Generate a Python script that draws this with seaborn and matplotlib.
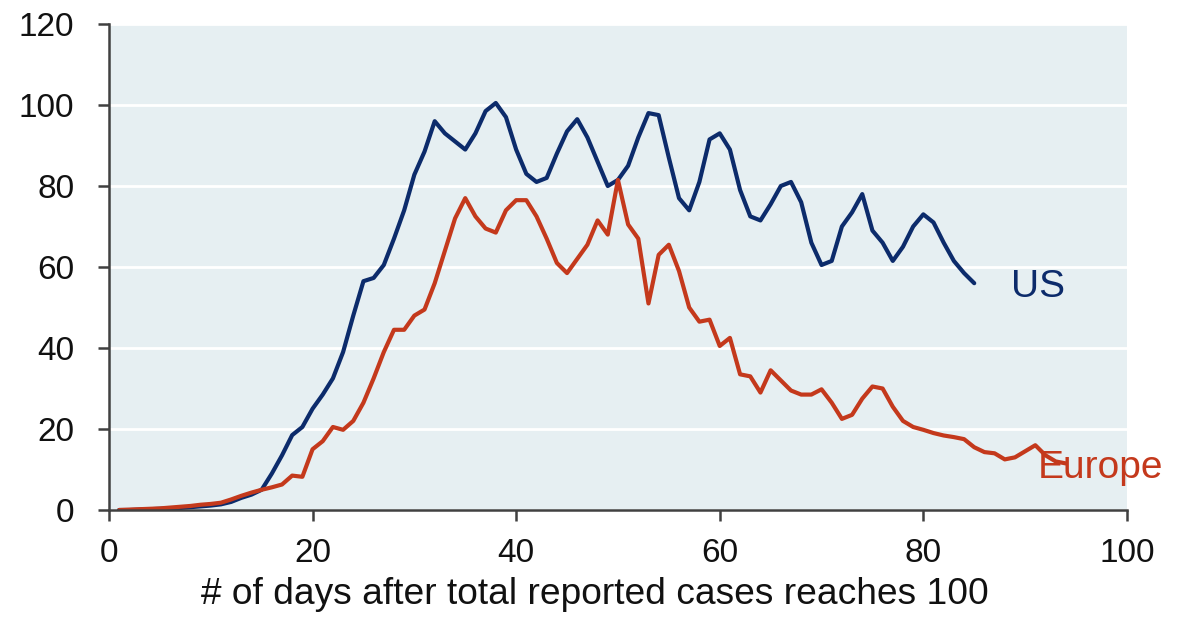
import numpy as np
import pandas as pd
import matplotlib
matplotlib.use("Agg")
import matplotlib.pyplot as plt
import seaborn as sns

us_days = list(range(1, 86))
us_values = [0, 0, 0.1, 0.2, 0.3, 0.4, 0.5, 0.7, 0.9, 1.1,
             1.4, 2.0, 3.0, 3.8, 5.0, 9.0, 13.5, 18.5, 20.5, 25,
             28.5, 32.5, 39, 48, 56.5, 57.3, 60.5, 67, 74, 82.8,
             88.5, 96, 93, 91, 89, 93, 98.5, 100.5, 97, 89,
             83, 81, 82, 88, 93.5, 96.5, 92, 86, 80, 81.5,
             85, 92, 98, 97.5, 87, 77, 74, 81, 91.5, 93,
             89, 79, 72.5, 71.5, 75.5, 80, 81, 76, 66, 60.5,
             61.5, 70, 73.5, 78, 69, 66, 61.5, 65, 70, 73,
             71, 66, 61.5, 58.5, 56]

eu_days = list(range(1, 95))
eu_values = [0, 0.1, 0.2, 0.3, 0.4, 0.6, 0.8, 1.0, 1.3, 1.5,
             1.8, 2.6, 3.5, 4.3, 5.0, 5.6, 6.3, 8.5, 8.2, 15,
             17, 20.5, 19.8, 22, 26.5, 32.5, 39, 44.5, 44.5, 48,
             49.5, 56, 64, 72, 77, 72.5, 69.5, 68.5, 74, 76.5,
             76.5, 72.5, 67, 61, 58.5, 62, 65.5, 71.5, 68, 81.5,
             70.5, 67, 51, 63, 65.5, 59, 50, 46.5, 47, 40.5,
             42.5, 33.5, 33, 29, 34.5, 32, 29.5, 28.5, 28.5, 29.8,
             26.5, 22.5, 23.5, 27.5, 30.5, 30, 25.5, 22, 20.5, 19.8,
             19, 18.4, 18, 17.5, 15.5, 14.3, 14, 12.5, 13, 14.5,
             16, 13.5, 12, 11.5]

series_names = ["US", "Europe"]
colors = {"US": "#0C2B6B", "Europe": "#C4391C"}
x_ticks = [0, 20, 40, 60, 80, 100]
y_ticks = [0, 20, 40, 60, 80, 100, 120]

df = pd.concat([
    pd.DataFrame({"day": us_days, "value": us_values, "series": "US"}),
    pd.DataFrame({"day": eu_days, "value": eu_values, "series": "Europe"}),
])

sns.set_theme(style="ticks")
plt.rcParams["font.family"] = ["Liberation Sans", "DejaVu Sans"]

fig = plt.figure(figsize=(11.83, 6.17), dpi=100)
ax = fig.add_axes([0.0921, 0.1734, 0.8605, 0.7877])
ax.set_facecolor("#E6EFF2")

sns.lineplot(data=df, x="day", y="value", hue="series", palette=colors,
             hue_order=series_names, linewidth=3.0, ax=ax, legend=False,
             solid_joinstyle="round", solid_capstyle="round")

ax.set_xlim(0, 100)
ax.set_ylim(0, 120)
ax.set_xticks(x_ticks)
ax.set_yticks(y_ticks)
ax.yaxis.grid(True, color="white", linewidth=2)
ax.set_axisbelow(True)
for s in ["top", "right"]:
    ax.spines[s].set_visible(False)
for s in ["left", "bottom"]:
    ax.spines[s].set_color("#404040")
    ax.spines[s].set_linewidth(1.8)
ax.tick_params(axis="both", direction="out", length=8, width=1.8,
               color="#404040", labelsize=24, labelcolor="#111111")
ax.tick_params(axis="x", pad=12)
ax.tick_params(axis="y", pad=17)
ax.set_xlabel("# of days after total reported cases reaches 100",
              fontsize=26.7, color="#111111")
ax.xaxis.set_label_coords(0.477, -0.138)
ax.set_ylabel("")

ax.text(88.6, 52.7, "US", color=colors["US"], fontsize=28,
        ha="left", va="baseline")
ax.text(91.2, 7.9, "Europe", color=colors["Europe"], fontsize=28,
        ha="left", va="baseline")

fig.savefig("out.png", dpi=100)
